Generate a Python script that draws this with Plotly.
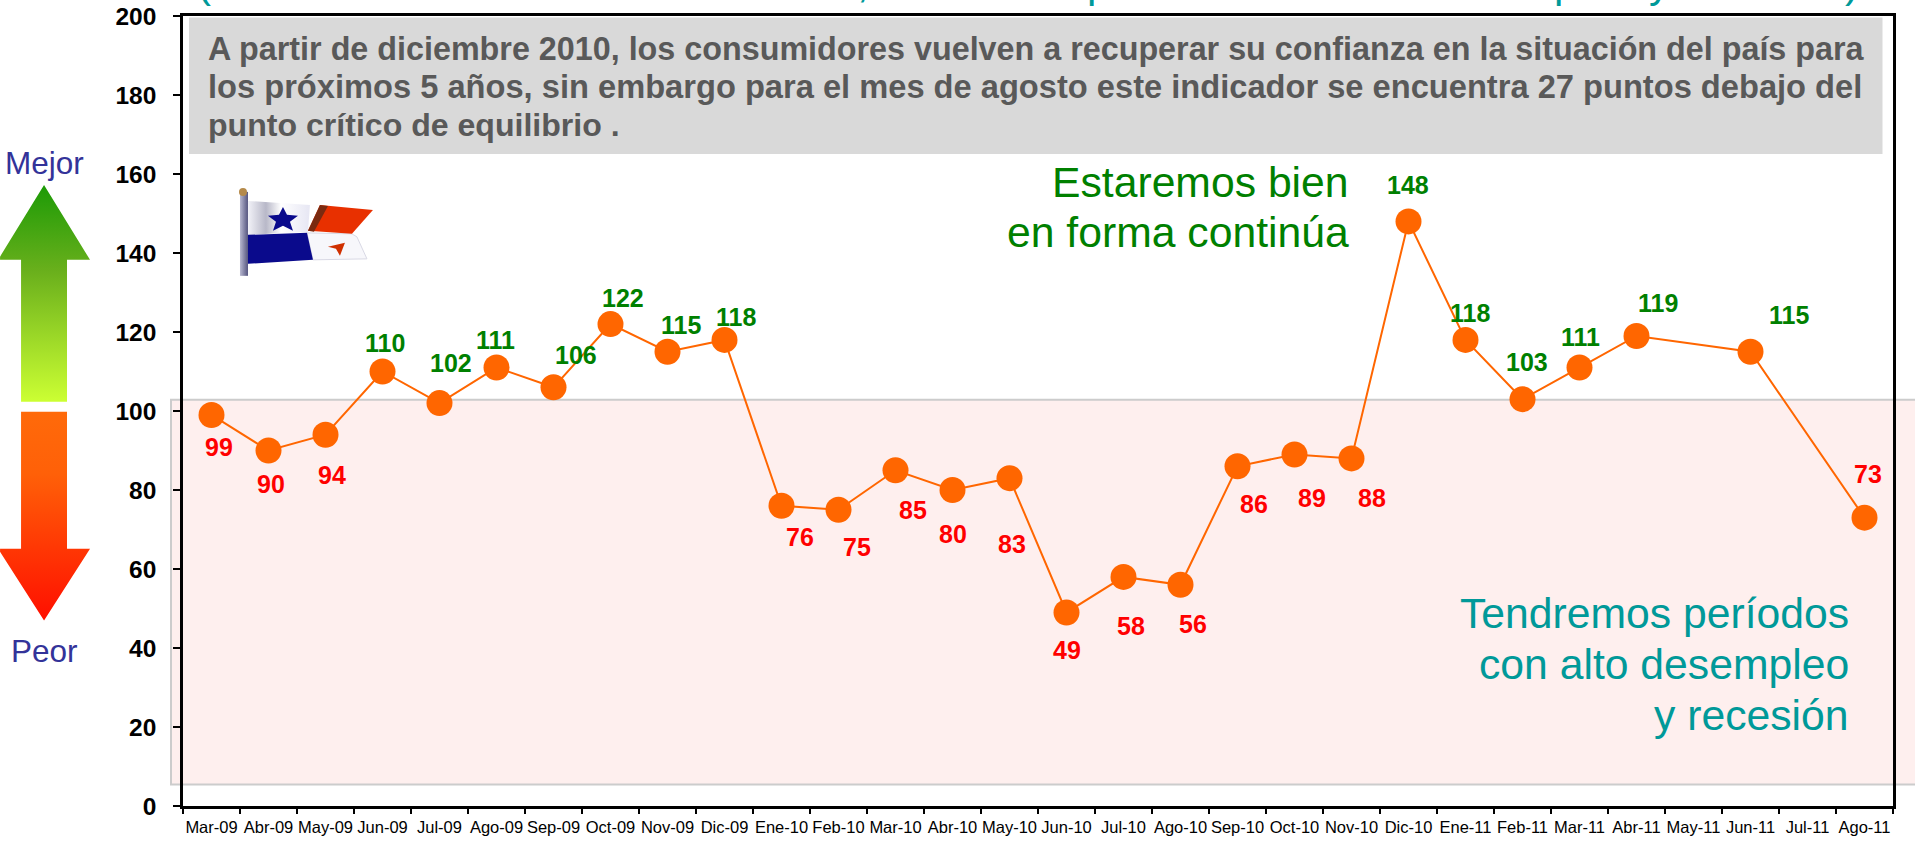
import base64
import plotly.graph_objects as go

months = ["Mar-09","Abr-09","May-09","Jun-09","Jul-09","Ago-09","Sep-09","Oct-09","Nov-09","Dic-09",
          "Ene-10","Feb-10","Mar-10","Abr-10","May-10","Jun-10","Jul-10","Ago-10","Sep-10","Oct-10","Nov-10","Dic-10",
          "Ene-11","Feb-11","Mar-11","Abr-11","May-11","Jun-11","Jul-11","Ago-11"]
values = [99,90,94,110,102,111,106,122,115,118,
          76,75,85,80,83,49,58,56,86,89,88,148,
          118,103,111,119,None,115,None,73]
label_dx = [7,2,6,2,11,-1,22,12,13,11,18,18,17,0,2,0,7,12,16,17,20,-1,4,4,1,21,None,38,None,3]
label_dy = [32,33,40,-29,-40,-28,-32,-26,-27,-23,31,37,40,44,66,38,49,39,38,44,40,-36,-27,-37,-31,-33,None,-37,None,-44]
summary_lines = ["A partir de diciembre 2010, los consumidores vuelven a recuperar su confianza en la situación del país para",
                 "los próximos 5 años, sin embargo para el mes de agosto este indicador se encuentra 27 puntos debajo del",
                 "punto crítico de equilibrio ."]
summary_sizes = [32.3, 32.65, 32.1]
good_lines = ["Estaremos bien", "en forma continúa"]
bad_lines = ["Tendremos períodos", "con alto desempleo", "y recesión"]
top_fragments = [("(", 204), (",", 863), ("p", 1099), ("p", 1566), ("y", 1660), (")", 1852)]

FIG_W, FIG_H = 1915, 841
L, R, T, B = 183.0, 1893.5, 16.0, 806.5
W, H = R - L, B - T
FONT = "Liberation Sans"

def px(x): return (x - L) / W
def py(y): return (B - y) / H

def text(s, x, base, size, color, anchor="left", bold=False):
    """Text placed by its baseline, in page pixels."""
    center = base - 0.3465 * size
    return dict(text=f"<b>{s}</b>" if bold else s, x=px(x), y=py(center), xref="paper", yref="paper",
                xanchor=anchor, yanchor="middle", showarrow=False, borderpad=0, borderwidth=0,
                font=dict(family=FONT, size=size, color=color))

annotations = []
for s, base, size in zip(summary_lines, [60, 98, 136], summary_sizes):
    annotations.append(text(s, 208, base, size, "#595959", bold=True))
for s, base in zip(good_lines, [197, 247]):
    annotations.append(text(s, 1349, base, 42.7, "#008000", "right"))
for s, base in zip(bad_lines, [628, 679, 730]):
    annotations.append(text(s, 1849, base, 42.7, "#009999", "right"))
annotations.append(text("Mejor", 44, 174, 31.5, "#333399", "center"))
annotations.append(text("Peor", 44, 662, 31.5, "#333399", "center"))
for s, x in top_fragments:
    annotations.append(text(s, x, -3, 42, "#009999", "center"))
for m, v, dx, dy in zip(months, values, label_dx, label_dy):
    if v is None:
        continue
    annotations.append(dict(text=f"<b>{v}</b>", x=m, y=v, xref="x", yref="y", xshift=dx, yshift=-dy,
                            xanchor="center", yanchor="middle", showarrow=False, borderpad=0, borderwidth=0,
                            font=dict(family=FONT, size=25, color="#008000" if v >= 100 else "#FF0000")))

shapes = [
    dict(type="rect", xref="paper", yref="paper", x0=px(171), x1=px(1925), y0=py(785), y1=py(400),
         fillcolor="#FEEFEE", line=dict(color="#CCCCCC", width=2), layer="below"),
    dict(type="rect", xref="paper", yref="paper", x0=px(189), x1=px(1883), y0=py(154), y1=py(17.5),
         fillcolor="#D9D9D9", line=dict(width=0), layer="below"),
]

art = """<svg xmlns="http://www.w3.org/2000/svg" width="400" height="660" viewBox="0 0 400 660">
<defs>
<linearGradient id="u" x1="0" y1="185" x2="0" y2="402" gradientUnits="userSpaceOnUse">
<stop offset="0" stop-color="#1C9A06"/><stop offset="0.4" stop-color="#6AB01C"/><stop offset="1" stop-color="#CCFF33"/></linearGradient>
<linearGradient id="d" x1="0" y1="412" x2="0" y2="621" gradientUnits="userSpaceOnUse">
<stop offset="0" stop-color="#FF6A0A"/><stop offset="0.3" stop-color="#FF6008"/><stop offset="1" stop-color="#FF0F00"/></linearGradient>
<linearGradient id="p" x1="240" x2="248" y1="0" y2="0" gradientUnits="userSpaceOnUse">
<stop offset="0" stop-color="#B8B8D0"/><stop offset="1" stop-color="#55557F"/></linearGradient>
<linearGradient id="w" x1="248" x2="308" y1="0" y2="0" gradientUnits="userSpaceOnUse">
<stop offset="0" stop-color="#F2F2F8"/><stop offset="0.3" stop-color="#B8B8C8"/><stop offset="0.55" stop-color="#FFFFFF"/><stop offset="1" stop-color="#E8E8F4"/></linearGradient>
</defs>
<polygon fill="url(#u)" points="44,185 90,260 67,260 67,402 21,402 21,260 -2,260"/>
<polygon fill="url(#d)" points="21,412 67,412 67,549 90,549 44,621 -2,549 21,549"/>
<rect x="240" y="192" width="8" height="84" fill="url(#p)"/>
<circle cx="243" cy="192" r="4" fill="#B58A4A"/>
<polygon fill="url(#w)" points="248,201 310,205 308,232 248,235"/>
<polygon fill="#F7F7FB" stroke="#D8D8E4" stroke-width="1" points="307,233 352,234 357,237 367,259 313,260"/>
<polygon fill="#E83000" points="320,205 373,210 352,234 308,231"/>
<polygon fill="#7A2A10" points="308,231 320,205 328,206 314,232"/>
<polygon fill="#0A0A8C" points="248,235 307,233 313,260 248,264"/>
<polygon fill="#0A0A8C" points="283,207 287,215 298,216 290,222 293,231 283,226 273,231 276,222 268,216 279,215"/>
<polygon fill="#D03000" points="345,243 340,256 336,249 328,247"/>
</svg>"""
art_uri = "data:image/svg+xml;base64," + base64.b64encode(art.encode()).decode()
images = [dict(source=art_uri, xref="paper", yref="paper", x=px(0), y=py(0),
               sizex=400 / W, sizey=660 / H, xanchor="left", yanchor="top", sizing="stretch", layer="above")]

fig = go.Figure(go.Scatter(
    x=months, y=values, mode="lines+markers", connectgaps=True,
    line=dict(color="#FF6600", width=2),
    marker=dict(color="#FF6600", size=26),
    cliponaxis=False, hoverinfo="skip"))

fig.update_layout(
    width=FIG_W, height=FIG_H, autosize=False,
    margin=dict(l=L, r=FIG_W - R, t=T, b=FIG_H - B, pad=0, autoexpand=False),
    paper_bgcolor="white", plot_bgcolor="rgba(0,0,0,0)", showlegend=False,
    font=dict(family=FONT), annotations=annotations, shapes=shapes, images=images,
    xaxis=dict(type="category", categoryorder="array", categoryarray=months, tickvals=months,
               range=[-0.5, 29.5], tickson="boundaries", ticks="outside", ticklen=5, tickwidth=1.5,
               tickcolor="black", showline=True, linecolor="black", linewidth=2.5, mirror=True,
               showgrid=False, zeroline=False, tickangle=0, ticklabelstandoff=4, automargin=False,
               tickfont=dict(family=FONT, size=16.5, color="black")),
    yaxis=dict(range=[0, 200], tick0=0, dtick=20, ticks="outside", ticklen=7, tickwidth=1.5,
               tickcolor="black", showline=True, linecolor="black", linewidth=2.5, mirror=True,
               showgrid=False, zeroline=False, ticklabelstandoff=12, automargin=False,
               tickfont=dict(family=FONT, size=24.5, color="black", weight="bold")),
)

fig.write_html("out.html", post_script="document.documentElement.style.overflow='hidden';document.body.style.margin='0';",
               config=dict(displayModeBar=False))
